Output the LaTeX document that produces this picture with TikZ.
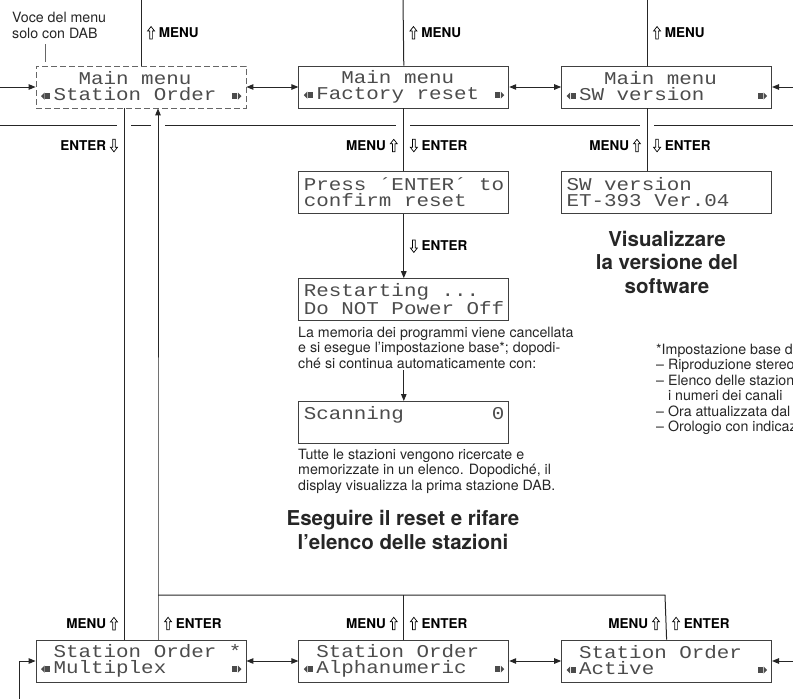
\documentclass[tikz,border=0pt]{standalone}
\usepackage{fontspec}
\setmainfont{TeX Gyre Heros}
\newfontfamily\lcdfont[FakeStretch=1.16]{Liberation Mono}
\usetikzlibrary{arrows.meta,positioning}
\newlength\lcdcolw
\newcommand\lcdsize{\lcdfont\fontsize{18}{16}\selectfont}
\newcommand\keyfont{\fontsize{13.5}{14}\selectfont\bfseries}
\newcommand\notesize{\fontsize{14.2}{15.5}\selectfont}
\newcommand\headsize{\fontsize{20.5}{23.5}\selectfont}
\newcommand\lcdstrut{\rule[-2pt]{0pt}{13pt}}
\newcommand\lcdtext[2]{\lcdstrut#1\\\lcdstrut#2}
% blank display columns
\newcommand\lsp{\hspace*{\fontcharwd\font`M}}
\newcommand\lsps[1]{\hspace*{#1\fontcharwd\font`M}}
% little scroll marks of the display
\newcommand\lcdl{\settowidth\lcdcolw{M}\makebox[\lcdcolw][l]{\tikz[x=1pt,y=1pt,baseline=0pt]{\fill[solid] (1,4.5)--(4.5,8)--(4.5,1)--cycle; \fill[solid] (5,1.5) rectangle (10,7.5);}}}
\newcommand\lcdr{\settowidth\lcdcolw{M}\makebox[\lcdcolw][r]{\tikz[x=1pt,y=1pt,baseline=0pt]{\fill[solid] (0,1.5) rectangle (5,7.5); \fill[solid] (5.5,1)--(9,4.5)--(5.5,8)--cycle;}}}
% hollow key arrows
\newcommand\keyup{\tikz[x=1pt,y=1pt,baseline=0pt]\draw[-,solid,line width=.7pt,line join=miter,black] (-1.3,-1.5)--(1.3,-1.5)--(1.3,6.5)--(3.5,6.5)--(0,11)--(-3.5,6.5)--(-1.3,6.5)--cycle;}
\newcommand\keydn{\tikz[x=1pt,y=1pt,baseline=0pt]\draw[-,solid,line width=.7pt,line join=miter,black] (-1.3,11)--(1.3,11)--(1.3,3)--(3.5,3)--(0,-1.5)--(-3.5,3)--(-1.3,3)--cycle;}
\tikzset{
  lcdbox/.style={draw=black!75,line width=0.8pt,minimum width=210pt,minimum height=42pt,
    inner sep=0pt,text width=200pt,align=left,font=\lcdsize,text=black!70},
  dablcd/.style={lcdbox,draw=black!60,dash pattern=on 6pt off 3pt},
  flowline/.style={line width=1pt,draw=black!85},
  flowarrow/.style={flowline,-{Triangle[length=7pt,width=5.5pt]}},
  twoway/.style={flowline,{Triangle[length=7pt,width=5.5pt]}-{Triangle[length=7pt,width=5.5pt]}},
  keyright/.style={right,inner sep=0pt,xshift=6pt,font=\keyfont},
  keyleft/.style={left,inner sep=0pt,xshift=-6pt,font=\keyfont},
  notetext/.style={font=\notesize,align=left,inner sep=0pt,anchor=base west,text=black!85},
  headline/.style={font=\headsize\bfseries,align=center,inner sep=0pt,anchor=base,text=black!85},
  divider/.style={line width=1pt,draw=black!85}
}
\begin{document}
\begin{tikzpicture}[x=1pt,y=-1pt,node distance=52pt]
  \useasboundingbox (0,0) rectangle (793,699);
  % main menu row
  \node[dablcd] (mmStation) at (141,87) {\lcdtext{\lsps{3}Main\lsp menu}{\lcdl Station\lsp Order\lsp\lcdr}};
  \node[lcdbox,right=of mmStation] (mmFactory) {\lcdtext{\lsps{3}Main\lsp menu}{\lcdl Factory\lsp reset\lsp\lcdr}};
  \node[lcdbox,right=of mmFactory] (mmSW) {\lcdtext{\lsps{3}Main\lsp menu}{\lcdl SW\lsp version\lsps{4}\lcdr}};
  % sub displays
  \node[lcdbox,below=63pt of mmFactory] (confirm) {\lcdtext{Press\lsp ´ENTER´\lsp to}{confirm\lsp reset}};
  \node[lcdbox,below=64pt of confirm] (restart) {\lcdtext{Restarting\lsp ...}{Do\lsp NOT\lsp Power\lsp Off}};
  \node[lcdbox,below=80pt of restart] (scan) {\lcdtext{Scanning\lsps{7}0}{}};
  \node[lcdbox,below=63pt of mmSW] (swVer) {\lcdtext{SW\lsp version}{ET-393\lsp Ver.04}};
  % station order row
  \node[lcdbox] (soMultiplex) at (141,661) {\lcdtext{\lsp Station\lsp Order\lsp *}{\lcdl Multiplex\lsps{5}\lcdr}};
  \node[lcdbox,right=of soMultiplex] (soAlpha) {\lcdtext{\lsp Station\lsp Order}{\lcdl Alphanumeric\lsps{2}\lcdr}};
  \node[lcdbox,right=of soAlpha] (soActive) {\lcdtext{\lsp Station\lsp Order}{\lcdl Active\lsps{8}\lcdr}};

  % texts (placed at the baseline of their last line)
  \node[notetext] (voceNote) at (12,38) {Voce del menu\\solo con DAB};
  \node[notetext] (memoText) at (298,368) {La memoria dei programmi viene cancellata\\e si esegue l’impostazione base*; dopodi-\\ché si continua automaticamente con:};
  \node[notetext] (scanText) at (298,490) {Tutte le stazioni vengono ricercate e\\memorizzate in un elenco. Dopodiché, il\\display visualizza la prima stazione DAB.};
  \node[headline] (resetHead) at (403,549) {Eseguire il reset e rifare\\l’elenco delle stazioni};
  \node[headline] (swHead) at (667,293) {Visualizzare\\la versione del\\software};
  \node[notetext] (baseNote) at (656,431.5) {*Impostazione base di\\– Riproduzione stereo\\– Elenco delle stazioni\\\hphantom{– }i numeri dei canali\\– Ora attualizzata dal\\– Orologio con indicazione};

  \coordinate (inTopL) at (0,87);
  \coordinate (inTopR) at (793,87);
  \coordinate (inBotR) at (793,661);
  \coordinate (inBotL) at (19,699);
  \coordinate (topA) at (141,0);
  \coordinate (topB) at (403,0);
  \coordinate (topC) at (647,0);
  \coordinate (downA) at (124,0);
  \coordinate (jA) at (158,595);
  \coordinate (jC) at (665,595);
  \coordinate (voceTip) at (45,62);

  % divider under the main menu, broken at the crossings
  \draw[divider] (0,125) -- (117,125) (131,125) -- (151,125) (165,125) -- (396,125)
    (410,125) -- (640,125) (654,125) -- (793,125);

  \draw[black!60,line width=.6pt,shorten <=6pt] (voceTip |- voceNote.south) -- (voceTip);

  % main menu row
  \draw[flowarrow] (inTopL) -- (mmStation.west);
  \draw[twoway] (mmStation) -- (mmFactory);
  \draw[twoway] (mmFactory) -- (mmSW);
  \draw[flowarrow] (inTopR) -- (mmSW.east);
  \draw[flowline] (topA) -- node[keyright]{\keyup\hspace{4pt}MENU} (mmStation.north);
  \draw[flowline] (topB) -- node[keyright]{\keyup\hspace{4pt}MENU} (mmFactory.north);
  \draw[flowline] (topC) -- node[keyright]{\keyup\hspace{4pt}MENU} (topC |- mmSW.north);

  % factory reset
  \draw[flowline] (mmFactory.south) -- node[keyleft,pos=.59]{MENU\hspace{4pt}\keyup} node[keyright,pos=.59]{\keydn\hspace{4pt}ENTER} (confirm.north);
  \draw[flowarrow] (confirm) -- node[keyright]{\keydn\hspace{4pt}ENTER} (restart);
  \draw[flowarrow,shorten <=2pt] (scan.north |- memoText.south) -- (scan.north);

  % software version
  \draw[flowline] (topC |- mmSW.south) -- node[keyleft,pos=.59]{MENU\hspace{4pt}\keyup} node[keyright,pos=.59]{\keydn\hspace{4pt}ENTER} (topC |- swVer.north);

  % station order
  \draw[flowline] (downA |- mmStation.south) -- node[keyleft,pos=.07]{ENTER\hspace{4pt}\keydn} node[keyleft,pos=.97]{MENU\hspace{4pt}\keyup} (downA |- soMultiplex.north);
  \draw[flowarrow] (jA |- soMultiplex.north) -- node[keyright,pos=.36]{\keyup\hspace{4pt}ENTER} (jA) -- (jA |- mmStation.south);
  \draw[flowline] (soAlpha.north) -- node[keyleft,pos=.36]{MENU\hspace{4pt}\keyup} node[keyright,pos=.36]{\keyup\hspace{4pt}ENTER} (soAlpha.north |- jA);
  \draw[flowline] (soActive.north) -- node[keyleft,pos=.36]{MENU\hspace{4pt}\keyup} node[keyright,pos=.36]{\keyup\hspace{4pt}ENTER} (jC) -- (jA);
  \draw[flowarrow] (inBotL) |- (soMultiplex.west);
  \draw[twoway] (soMultiplex) -- (soAlpha);
  \draw[twoway] (soAlpha) -- (soActive);
  \draw[flowarrow] (inBotR) -- (soActive.east);
\end{tikzpicture}
\end{document}
